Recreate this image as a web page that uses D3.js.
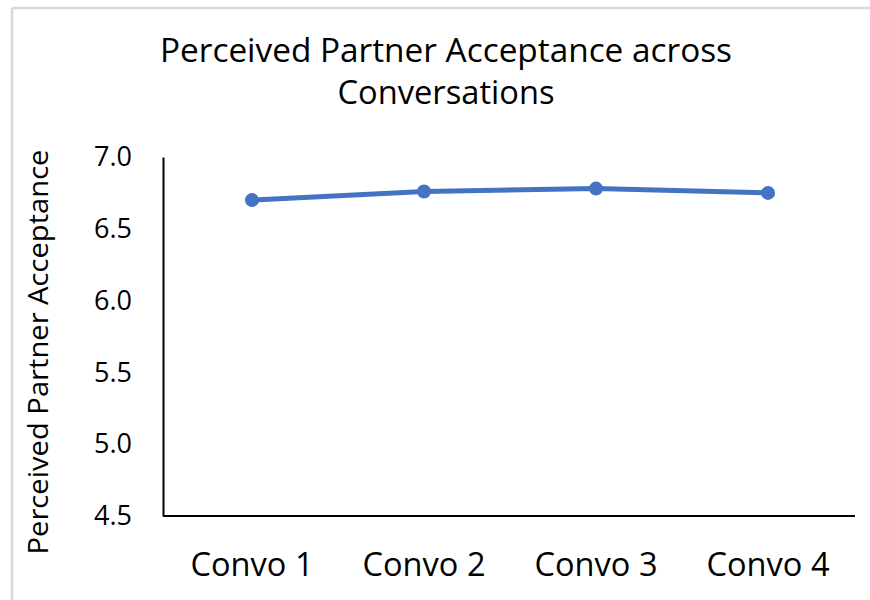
<!DOCTYPE html>
<html>
<head>
<meta charset="utf-8">
<script src="https://cdn.jsdelivr.net/npm/d3@7"></script>
<style>
  body { margin: 0; background: #fff; }
  svg { display: block; font-family: "Open Sans", sans-serif; }
</style>
</head>
<body>
<div id="chart"></div>
<script>
// Chart data
const categories = ['Convo 1', 'Convo 2', 'Convo 3', 'Convo 4'];
const acceptance = [6.70, 6.76, 6.78, 6.75];
const yTicks = [4.5, 5.0, 5.5, 6.0, 6.5, 7.0];
const titleLines = ['Perceived Partner Acceptance across', 'Conversations'];
const yTitle = 'Perceived Partner Acceptance';

const width = 870;
const height = 600;
const margin = { top: 157, right: 15, bottom: 84, left: 163 };

const svg = d3.select('#chart').append('svg')
  .attr('width', width)
  .attr('height', height);

// light frame, as in the source picture
svg.append('line')
  .attr('x1', 12).attr('x2', width).attr('y1', 8).attr('y2', 8)
  .attr('stroke', '#d9d9d9').attr('stroke-width', 2.5);
svg.append('line')
  .attr('x1', 12).attr('x2', 12).attr('y1', 8).attr('y2', height)
  .attr('stroke', '#d9d9d9').attr('stroke-width', 2.5);

const x = d3.scaleBand()
  .domain(categories)
  .range([margin.left + 3, width - margin.right - 1]);

const y = d3.scaleLinear()
  .domain([4.5, 7.0])
  .range([height - margin.bottom, margin.top]);

// title (widths)
const titleWidths = [572, 217];
svg.append('text')
  .attr('x', 446)
  .attr('y', 62)
  .attr('text-anchor', 'middle')
  .style('font-size', '33px')
  .selectAll('tspan')
  .data(titleLines)
  .enter()
  .append('tspan')
  .attr('x', 446)
  .attr('dy', (d, i) => i === 0 ? 0 : 42)
  .attr('textLength', (d, i) => titleWidths[i])
  .attr('lengthAdjust', 'spacingAndGlyphs')
  .text((d) => d);

// y axis
const yAxis = d3.axisLeft(y)
  .tickValues(yTicks)
  .tickFormat(d3.format('.1f'))
  .tickSize(0)
  .tickPadding(31);

const gY = svg.append('g')
  .attr('transform', `translate(${margin.left}, 0)`)
  .call(yAxis);
gY.select('.domain').attr('stroke', '#000').attr('stroke-width', 2);
gY.selectAll('text')
  .style('font-size', '27px')
  .style('font-family', '"Open Sans", sans-serif')
  .attr('fill', '#000');

// x axis
const xAxis = d3.axisBottom(x)
  .tickSize(0)
  .tickPadding(37);

const gX = svg.append('g')
  .attr('transform', `translate(0, ${y(4.5)})`)
  .call(xAxis);
gX.select('.domain')
  .attr('d', `M${margin.left},0H${width - margin.right}`)
  .attr('stroke', '#000').attr('stroke-width', 2);
gX.selectAll('text')
  .style('font-size', '32px')
  .style('font-family', '"Open Sans", sans-serif')
  .attr('fill', '#000')
  .attr('textLength', 123)
  .attr('lengthAdjust', 'spacingAndGlyphs');

// y axis title
svg.append('text')
  .attr('transform', `translate(48, 352) rotate(-90)`)
  .attr('text-anchor', 'middle')
  .style('font-size', '27px')
  .attr('textLength', 405)
  .attr('lengthAdjust', 'spacingAndGlyphs')
  .text(yTitle);

// series
const cx = (d, i) => x(categories[i]) + x.bandwidth() / 2;

const line = d3.line()
  .x(cx)
  .y((d) => y(d));

svg.append('path')
  .datum(acceptance)
  .attr('fill', 'none')
  .attr('stroke', '#4472c4')
  .attr('stroke-width', 5)
  .attr('stroke-linejoin', 'round')
  .attr('d', line);

svg.selectAll('.datapoint')
  .data(acceptance)
  .enter()
  .append('circle')
  .attr('class', 'datapoint')
  .attr('cx', cx)
  .attr('cy', (d) => y(d))
  .attr('r', 7)
  .attr('fill', '#4472c4');
</script>
</body>
</html>
